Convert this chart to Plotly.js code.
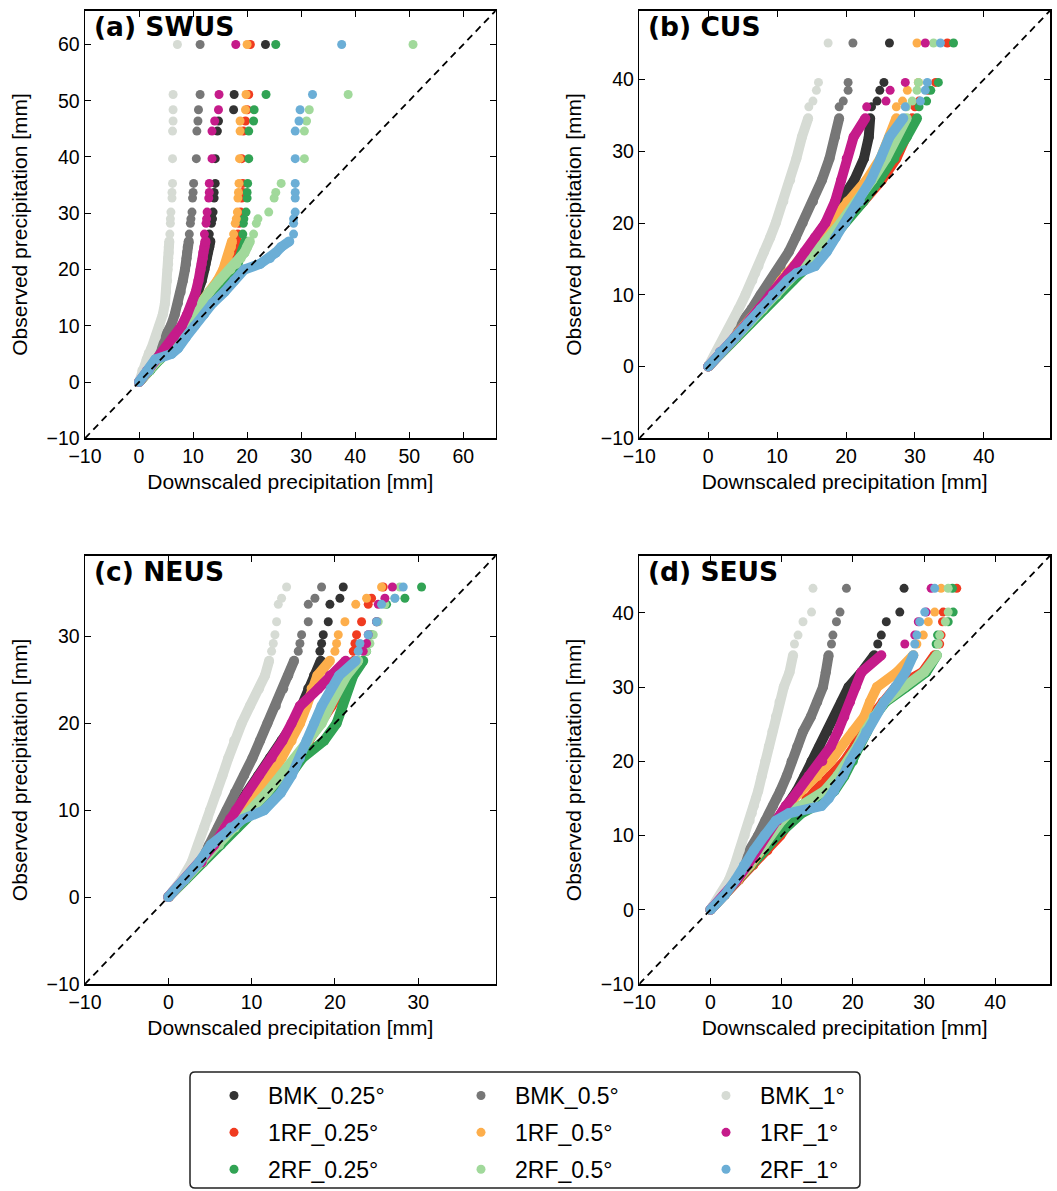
<!DOCTYPE html>
<html><head><meta charset="utf-8">
<script src="https://cdn.plot.ly/plotly-3.0.1.min.js"></script>
<style>html,body{margin:0;padding:0;background:#fff}</style>
</head><body><div id="chart" style="width:1057px;height:1191px"></div>
<script>
// ---------------- DATA ----------------
// series order (legend column-first): BMK_0.25, 1RF_0.25, 2RF_0.25, BMK_0.5, 1RF_0.5, 2RF_0.5, BMK_1, 1RF_1, 2RF_1
const seriesNames = ['BMK_0.25°','1RF_0.25°','2RF_0.25°','BMK_0.5°','1RF_0.5°','2RF_0.5°','BMK_1°','1RF_1°','2RF_1°'];
const seriesColors = ['#333333','#f03b20','#31a354','#777777','#fdae4b','#a1d99b','#d6dbd4','#c51b8a','#6baed6'];
const panelLabels = ['(a) SWUS','(b) CUS','(c) NEUS','(d) SEUS'];
const xTitle = 'Downscaled precipitation [mm]';
const yTitle = 'Observed precipitation [mm]';
const axisRanges = [[-10,66],[-10,49.6],[-10,39.3],[-10,47.7]];

// (a) SWUS: observed quantiles (y) shared by all series, downscaled quantiles (x) per series
const swusBodyY = [0,2,4,5,6,8,10,12,14,16,18,20,21,22,23,24,25];
const swusBodyX = [
  [0,1.5,3.3,4.2,5.1,6.8,8.3,9.4,10.3,11.0,11.6,12.1,12.3,12.5,12.7,13.0,13.2],
  [0,1.9,3.7,4.6,5.5,7.3,9.0,10.6,12.2,13.7,15.1,16.4,17.0,17.4,17.7,18.0,18.2],
  [0,2.0,3.9,4.9,5.8,7.7,9.5,11.3,13.0,14.7,16.2,17.6,18.2,18.7,19.1,19.4,19.7],
  [0,1.2,2.7,3.4,4.0,5.0,5.9,6.6,7.2,7.7,8.1,8.5,8.7,8.8,8.9,9.0,9.2],
  [0,1.8,3.5,4.3,5.2,6.8,8.4,9.9,11.5,13.0,14.5,15.6,16.0,16.4,16.7,17.0,17.2],
  [0,1.9,3.8,4.7,5.6,7.2,8.6,10.0,11.4,13.0,14.8,16.9,18.0,18.8,19.5,20.0,20.5],
  [0,0.6,1.4,1.8,2.3,3.1,3.8,4.4,4.8,5.0,5.2,5.3,5.4,5.4,5.5,5.5,5.6],
  [0,1.5,3.2,4.1,4.9,6.5,7.9,8.9,9.8,10.5,11.0,11.4,11.6,11.8,11.9,12.1,12.3],
  [0,1.8,3.0,6.0,7.2,8.7,10.3,12.0,13.6,15.8,17.6,19.5,22.4,24.2,25.3,26.3,27.8]
];
const swusTailY = [26.3,28.2,29.0,30.2,32.7,33.7,35.3,39.7,44.6,46.4,48.4,51.1,60];
const swusTailX = [
  [13.0,13.4,13.6,13.7,13.9,13.9,14.1,14.1,14.5,14.7,17.5,17.6,23.4],
  [18.3,18.5,18.6,18.8,19.0,19.2,19.2,19.0,19.3,19.7,20.0,20.3,20.6],
  [19.2,19.3,19.4,19.8,20.0,20.0,20.1,20.3,20.3,21.2,21.3,23.5,25.3],
  [9.3,9.5,9.6,9.8,9.9,10.0,10.1,10.6,10.7,10.9,11.0,11.3,11.3],
  [17.5,17.8,18.0,18.2,18.3,18.4,18.5,18.6,18.7,18.7,19.7,19.8,20.0],
  [21.2,21.7,22.0,24.0,25.0,25.3,26.3,30.6,30.6,31.0,31.5,38.7,50.7],
  [5.7,5.8,5.8,5.9,6.1,6.1,6.2,6.2,6.2,6.3,6.3,6.3,7.1],
  [12.1,12.4,12.5,12.6,12.9,13.0,13.0,13.5,13.5,14.0,14.7,14.8,17.9],
  [28.6,28.6,28.6,28.9,28.9,28.9,28.9,28.9,28.9,29.6,29.8,32.1,37.5]
];

// (b) CUS
const cusBodyY = [0,2,4,6,8,10,12,13,14,16,18,20,23,26,29,32,34.6];
const cusBodyX = [
  [0,1.7,3.8,5.7,7.6,9.3,11.1,12.0,12.8,14.3,15.8,17.3,19.2,21.2,22.6,23.3,23.5],
  [0,2.0,4.0,6.0,8.0,10.0,11.8,12.8,13.8,15.7,17.6,19.6,22.5,25.2,27.3,28.7,29.6],
  [0,2.0,4.1,6.1,8.2,10.3,12.3,13.4,14.6,16.4,18.0,19.8,22.5,24.8,27.0,28.8,30.3],
  [0,1.6,3.5,4.9,6.3,7.6,9.1,9.8,10.5,11.7,12.7,13.7,15.2,16.5,17.6,18.4,19.0],
  [0,1.8,3.8,5.8,7.6,9.2,10.6,11.4,12.5,14.2,15.9,17.7,20.2,23.0,25.0,26.3,27.3],
  [0,1.9,3.9,5.9,7.9,9.9,11.7,12.7,13.8,15.8,17.5,19.2,21.6,23.8,25.8,27.3,28.8],
  [0,1.2,2.3,3.4,4.4,5.4,6.4,6.8,7.3,8.1,9.0,9.8,10.9,11.9,12.8,13.6,14.5],
  [0,1.7,3.8,5.6,7.4,9.0,10.8,11.6,12.5,14.0,15.5,17.0,18.4,19.3,20.1,21.1,22.8],
  [0,1.7,3.8,5.7,7.6,9.4,11.5,12.8,15.5,17.2,18.5,19.9,22.0,23.6,25.0,26.3,28.3]
];
const cusTailY = [36.2,37.0,38.5,39.6,45.1];
const cusTailX = [
  [23.7,24.5,24.9,25.5,26.3],
  [30.0,30.6,31.9,33.0,34.7],
  [30.6,31.7,32.3,33.4,35.6],
  [19.0,19.6,20.3,20.3,21.0],
  [27.3,28.2,28.9,30.5,30.3],
  [28.8,29.6,30.3,30.5,32.7],
  [14.6,15.2,15.7,16.0,17.4],
  [23.0,25.8,26.4,28.6,31.5],
  [28.6,30.8,31.5,31.8,33.7]
];

// (c) NEUS
const neusBodyY = [0,2,4,6,8,9,10,12,14,16,18,20,22,24,25.5,27.2];
const neusBodyX = [
  [0,1.9,3.8,5.3,6.6,7.3,8.0,9.4,10.8,12.2,13.6,15.0,16.0,16.8,17.5,18.3],
  [0,2.0,4.0,5.9,7.6,8.6,9.8,12.0,14.1,15.5,16.9,18.3,19.6,20.7,21.5,22.3],
  [0,2.1,4.2,6.3,8.3,9.3,10.5,12.6,14.6,16.1,18.7,20.2,20.9,21.6,22.2,23.4],
  [0,1.9,3.6,4.9,6.0,6.5,7.0,8.0,9.1,10.1,11.0,11.9,12.9,13.8,14.4,15.1],
  [0,2.0,4.0,5.6,6.8,7.6,8.6,10.6,12.3,13.6,14.8,15.8,16.6,17.2,17.9,19.4],
  [0,2.0,4.1,6.1,8.0,8.9,9.9,11.8,13.5,15.2,16.8,18.4,19.4,20.4,21.4,22.8],
  [0,1.6,2.8,3.6,4.3,4.7,5.0,5.8,6.5,7.2,7.9,8.8,9.8,10.9,11.6,12.1],
  [0,1.9,4.0,5.5,6.8,7.4,8.1,9.5,10.9,12.4,13.7,14.8,15.8,18.0,19.4,21.3],
  [0,2.0,3.7,5.1,7.5,9.0,11.5,13.5,14.8,15.8,16.6,17.5,18.4,19.5,20.5,22.5]
];
const neusTailY = [28.3,29.2,30.2,31.7,33.7,34.4,35.7];
const neusTailX = [
  [18.2,18.4,18.6,19.2,19.4,20.6,21.0],
  [22.2,22.4,22.6,23.2,24.0,24.4,25.8],
  [23.8,24.0,24.4,25.0,26.2,28.4,30.4],
  [15.6,15.8,16.0,16.8,16.8,17.6,18.4],
  [20.0,20.2,20.4,21.2,22.5,23.8,25.6],
  [23.8,24.2,24.6,25.2,26.0,27.2,27.8],
  [12.4,12.6,12.8,13.0,13.2,13.6,14.2],
  [23.4,23.8,24.0,25.0,25.2,26.0,26.9],
  [22.8,23.0,24.0,25.0,25.6,27.2,28.2]
];

// (d) SEUS
const seusBodyY = [0,2,4,6,8,10,12,13,14,15,16,18,20,22,24,26,28,30,32,34.3];
const seusBodyX = [
  [0,1.9,3.6,5.0,6.4,7.8,9.3,10.1,10.9,11.5,12.1,13.2,14.2,15.3,16.4,17.5,18.4,19.4,21.2,23.0],
  [0,2.0,4.0,6.0,8.0,9.8,11.2,12.0,12.7,13.5,14.7,16.8,18.8,20.2,21.2,22.6,24.2,26.0,29.8,31.5],
  [0,2.0,3.9,5.8,7.6,9.4,11.4,12.8,14.8,16.4,17.4,18.8,20.0,21.0,22.0,23.0,24.6,27.5,30.3,31.8],
  [0,1.7,3.0,4.2,5.6,6.7,7.7,8.3,8.8,9.3,9.8,10.7,11.4,12.2,13.0,14.1,15.0,15.8,16.2,16.6],
  [0,2.0,3.9,5.6,7.1,8.3,9.3,10.0,10.8,11.7,12.7,15.0,16.9,18.4,20.0,21.6,22.4,23.4,26.2,28.5],
  [0,1.9,3.7,5.4,7.0,8.4,10.0,11.0,12.8,14.5,16.0,17.8,19.4,20.6,21.7,22.9,24.4,27.2,30.0,31.8],
  [0,1.4,2.6,3.4,4.1,4.8,5.5,5.8,6.1,6.4,6.7,7.2,7.7,8.2,8.7,9.2,9.7,10.3,11.1,11.6],
  [0,1.9,3.7,5.2,6.5,7.8,9.4,10.0,10.6,11.5,12.3,13.8,15.7,16.9,17.9,18.8,19.6,20.4,21.2,24.0],
  [0,2.0,3.5,4.7,6.1,7.6,9.2,11.0,15.6,16.6,17.4,18.6,19.6,20.8,21.9,23.0,24.4,26.0,27.4,28.5]
];
const seusTailY = [35.8,37.0,38.8,40.1,43.3];
const seusTailX = [
  [23.5,24.0,24.7,26.6,27.2],
  [32.2,32.4,32.6,32.7,34.6],
  [31.7,31.9,33.4,34.1,34.0],
  [17.0,17.2,17.7,18.2,19.1],
  [29.0,29.9,30.6,31.5,32.4],
  [32.0,32.2,33.0,33.4,33.4],
  [11.8,12.3,13.0,14.2,14.4],
  [27.3,28.7,29.2,30.3,31.0],
  [28.7,29.0,29.4,30.1,31.5]
];

// ---------------- LAYOUT / BUILD ----------------
const W = 1057, H = 1191;
const FONT = '"Liberation Sans", Arial, sans-serif';
// pixel boxes of the four axes: [left, right, top, bottom]
const boxes = [[85,495.7,10.7,438.3],[639.3,1050,10.7,438.3],[85,495.7,555.7,984],[639.3,1050,555.7,984]];

const panelData = [
  [swusBodyY, swusBodyX, swusTailY, swusTailX],
  [cusBodyY, cusBodyX, cusTailY, cusTailX],
  [neusBodyY, neusBodyX, neusTailY, neusTailX],
  [seusBodyY, seusBodyX, seusTailY, seusTailX]
];
const legendIds = ['legend','legend2','legend3'];

const traces = [];
const layout = {
  width: W, height: H,
  margin: {l:0, r:0, t:0, b:0},
  paper_bgcolor: '#fff', plot_bgcolor: '#fff',
  font: {family: FONT, color: '#000', size: 21},
  showlegend: true,
  hovermode: false,
  annotations: [],
  shapes: []
};

panelData.forEach((pd, p) => {
  const n = p + 1;
  const xa = 'x' + (n === 1 ? '' : n), ya = 'y' + (n === 1 ? '' : n);
  const [bodyY, bodyX, tailY, tailX] = pd;
  for (let i = 0; i < seriesNames.length; i++) {
    const col = seriesColors[i];
    traces.push({
      type: 'scatter', mode: 'lines+markers', x: bodyX[i], y: bodyY,
      xaxis: xa, yaxis: ya,
      line: {color: col, width: 10}, marker: {color: col, size: 10},
      showlegend: false, hoverinfo: 'skip', cliponaxis: true
    });
    traces.push({
      type: 'scatter', mode: 'markers', x: tailX[i], y: tailY,
      xaxis: xa, yaxis: ya, name: seriesNames[i],
      marker: {color: col, size: 9},
      showlegend: n === 1, legend: legendIds[Math.floor(i / 3)],
      legendgroup: 'g' + i, hoverinfo: 'skip'
    });
  }
  const r = axisRanges[p];
  traces.push({
    type: 'scatter', mode: 'lines', x: [r[0], r[1]], y: [r[0], r[1]],
    xaxis: xa, yaxis: ya, showlegend: false, hoverinfo: 'skip',
    line: {color: '#000', width: 1.8, dash: '7px,5px'}
  });

  const b = boxes[p];
  const common = {
    range: r, tick0: 0, dtick: 10, ticks: 'inside', ticklen: 6, tickwidth: 1,
    tickcolor: '#000', mirror: 'allticks', showline: true, linecolor: '#000',
    linewidth: 1.5, showgrid: false, zeroline: false, automargin: false,
    tickfont: {size: 19.5, color: '#000', family: FONT}, fixedrange: true
  };
  layout['xaxis' + (n === 1 ? '' : n)] = Object.assign({}, common, {
    domain: [b[0] / W, b[1] / W], anchor: ya,
    title: {text: xTitle, font: {size: 21, family: FONT}, standoff: 8}
  });
  layout['yaxis' + (n === 1 ? '' : n)] = Object.assign({}, common, {
    domain: [1 - b[3] / H, 1 - b[2] / H], anchor: xa,
    title: {text: yTitle, font: {size: 21, family: FONT}, standoff: 13}
  });
  layout.annotations.push({
    xref: xa + ' domain', yref: ya + ' domain', x: 0.016, y: 1.0,
    xanchor: 'left', yanchor: 'top', yshift: 2, showarrow: false,
    text: '<b>' + panelLabels[p] + '</b>',
    font: {family: '"DejaVu Sans", sans-serif', size: 26.5, color: '#000'}
  });
});

// three legend columns
const legX = [200, 447, 692];
legendIds.forEach((id, k) => {
  layout[id] = {
    x: legX[k] / W, y: 1 - 1074 / H, xanchor: 'left', yanchor: 'top',
    orientation: 'v', bgcolor: 'rgba(0,0,0,0)', borderwidth: 0,
    font: {size: 23, family: FONT, color: '#000'},
    tracegroupgap: 4, itemwidth: 58
  };
});
// legend frame (rounded rectangle)
const fx0 = 190 / W, fx1 = 860 / W, fy0 = 1 - 1188 / H, fy1 = 1 - 1072 / H;
const rx = 5 / W, ry = 5 / H;
layout.shapes.push({
  type: 'path', xref: 'paper', yref: 'paper',
  path: `M ${fx0 + rx} ${fy1} L ${fx1 - rx} ${fy1} Q ${fx1} ${fy1} ${fx1} ${fy1 - ry} L ${fx1} ${fy0 + ry} Q ${fx1} ${fy0} ${fx1 - rx} ${fy0} L ${fx0 + rx} ${fy0} Q ${fx0} ${fy0} ${fx0} ${fy0 + ry} L ${fx0} ${fy1 - ry} Q ${fx0} ${fy1} ${fx0 + rx} ${fy1} Z`,
  line: {color: '#222', width: 1.5}, fillcolor: 'rgba(0,0,0,0)'
});

Plotly.newPlot('chart', traces, layout, {displayModeBar: false, staticPlot: true});
</script>
</body></html>
